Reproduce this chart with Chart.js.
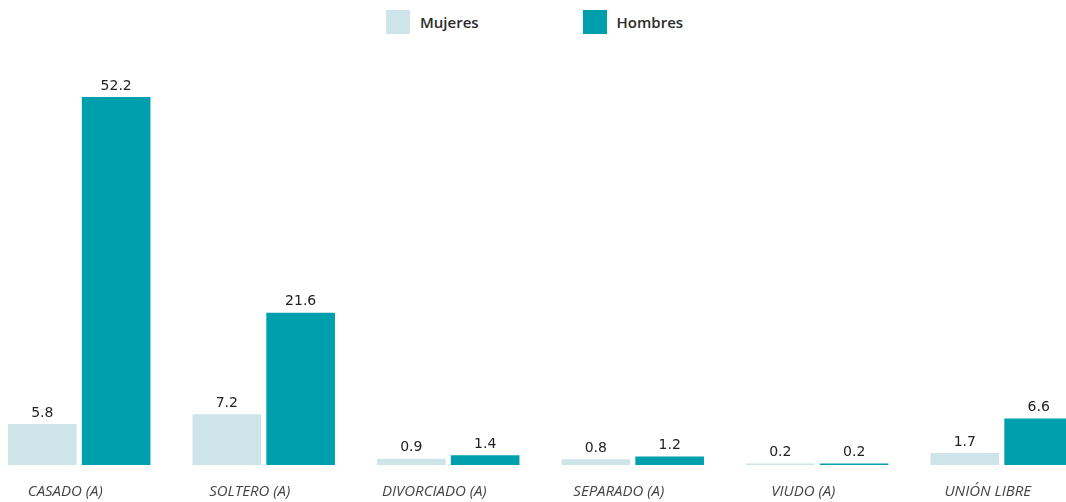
<!DOCTYPE html>
<html>
<head>
<meta charset="utf-8">
<script src="https://cdn.jsdelivr.net/npm/chart.js@4"></script>
<style>
  html, body { margin: 0; padding: 0; background: #fff; overflow: hidden; }
  body { width: 1066px; height: 502px; position: relative; }
  #legend {
    position: absolute; top: 10px; left: 386px;
    display: flex; align-items: center;
    font-family: "Open Sans", sans-serif; font-weight: 600; font-size: 15px; color: #2b2b2b;
  }
  .item { display: flex; align-items: center; }
  .box { width: 24px; height: 24px; margin-right: 10px; }
  #wrap { position: absolute; left: -13px; top: 0; width: 1107px; height: 502px; }
</style>
</head>
<body>
<div id="legend">
  <div class="item" style="margin-right:104px"><span class="box" style="background:#cde4e8"></span>Mujeres</div>
  <div class="item"><span class="box" style="background:#009fae"></span>Hombres</div>
</div>
<div id="wrap"><canvas id="chart"></canvas></div>
<script>
// ======================
// DATA
// ======================
const categories = ["CASADO (A)", "SOLTERO (A)", "DIVORCIADO (A)", "SEPARADO (A)", "VIUDO (A)", "UNIÓN LIBRE"];
const mujeres = [5.8, 7.2, 0.9, 0.8, 0.2, 1.7];
const hombres = [52.2, 21.6, 1.4, 1.2, 0.2, 6.6];

// value labels above bars
const valueLabels = {
  id: "valueLabels",
  afterDatasetsDraw(chart) {
    const ctx = chart.ctx;
    ctx.save();
    ctx.font = "14px 'DejaVu Sans'";
    ctx.fillStyle = "#222";
    ctx.textAlign = "center";
    ctx.textBaseline = "bottom";
    chart.data.datasets.forEach((ds, i) => {
      chart.getDatasetMeta(i).data.forEach((bar, j) => {
        ctx.fillText(ds.data[j].toFixed(1), bar.x, bar.y - 4);
      });
    });
    ctx.restore();
  }
};

new Chart(document.getElementById("chart"), {
  type: "bar",
  data: {
    labels: categories,
    datasets: [
      { label: "Mujeres", data: mujeres, backgroundColor: "#cde4e8" },
      { label: "Hombres", data: hombres, backgroundColor: "#009fae" }
    ]
  },
  options: {
    responsive: true,
    maintainAspectRatio: false,
    animation: false,
    categoryPercentage: 0.8,
    barPercentage: 0.93,
    layout: { padding: { top: 42, bottom: 0, left: 0, right: 0 } },
    plugins: {
      legend: { display: false },
      tooltip: { enabled: false }
    },
    scales: {
      x: {
        grid: { display: false, drawTicks: false },
        border: { display: false },
        afterFit(scale) { scale.height = 37; },
        ticks: {
          padding: 18,
          labelOffset: -14,
          color: "#444",
          font: { family: "Open Sans", style: "italic", size: 15 }
        }
      },
      y: {
        display: false,
        min: 0,
        max: 60
      }
    }
  },
  plugins: [valueLabels]
});
</script>
</body>
</html>
